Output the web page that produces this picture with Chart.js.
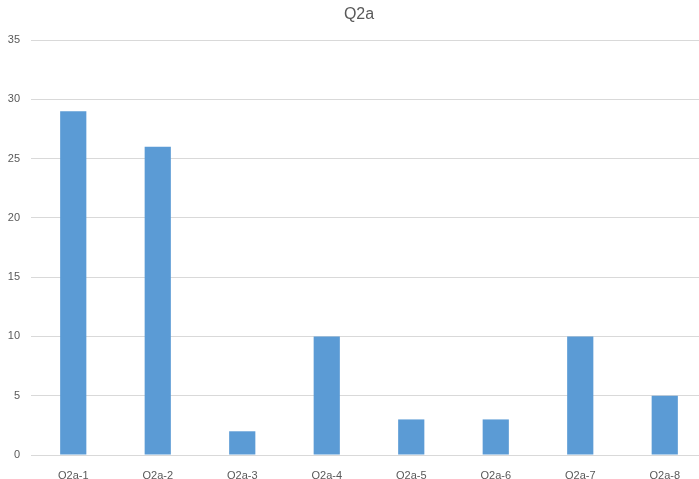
<!DOCTYPE html>
<html>
<head>
<meta charset="utf-8">
<script src="https://cdn.jsdelivr.net/npm/chart.js@4"></script>
<style>
  html, body { margin: 0; padding: 0; background: #fff; overflow: hidden; }
  #wrap { width: 707px; height: 479px; }
</style>
</head>
<body>
<div id="wrap"><canvas id="q2aChart" width="707" height="479"></canvas></div>
<script>
const chartTitle = "Q2a";
const categories = ["Q2a-1", "Q2a-2", "Q2a-3", "Q2a-4", "Q2a-5", "Q2a-6", "Q2a-7", "Q2a-8"];
const counts = [29, 26, 2, 10, 3, 3, 10, 5];

// title drawn by hand so it sits where the original one does
const titlePlugin = {
    id: "q2aTitle",
    afterDraw(c) {
        const g = c.ctx;
        g.save();
        g.fillStyle = "#595959";
        g.font = "16px 'Liberation Sans'";
        g.textAlign = "center";
        g.textBaseline = "middle";
        g.fillText(chartTitle, 359, 15);
        g.restore();
    }
};

const ctx = document.getElementById("q2aChart").getContext("2d");

const chart = new Chart(ctx, {
    type: "bar",
    data: {
        labels: categories,
        datasets: [{
            label: chartTitle,
            data: counts,
            backgroundColor: "#5b9bd5",
            barPercentage: 0.62,
            categoryPercentage: 0.5
        }]
    },
    options: {
        responsive: false,
        animation: false,
        layout: { padding: { left: 0, right: 0, top: 40, bottom: 0 } },
        plugins: {
            legend: { display: false },
            tooltip: { enabled: false },
            title: { display: false }
        },
        scales: {
            x: {
                grid: { display: false },
                border: { display: false },
                ticks: {
                    color: "#595959",
                    font: { family: "Liberation Sans", size: 11 },
                    padding: 6,
                    maxRotation: 0
                },
                afterFit: (scale) => { scale.height = 24; }
            },
            y: {
                min: 0,
                max: 35,
                grid: { color: "#d9d9d9", drawTicks: false },
                border: { display: false },
                ticks: {
                    stepSize: 5,
                    color: "#595959",
                    font: { family: "Liberation Sans", size: 11 },
                    padding: 11
                },
                afterFit: (scale) => { scale.width = 31; }
            }
        }
    },
    plugins: [titlePlugin]
});
</script>
</body>
</html>
